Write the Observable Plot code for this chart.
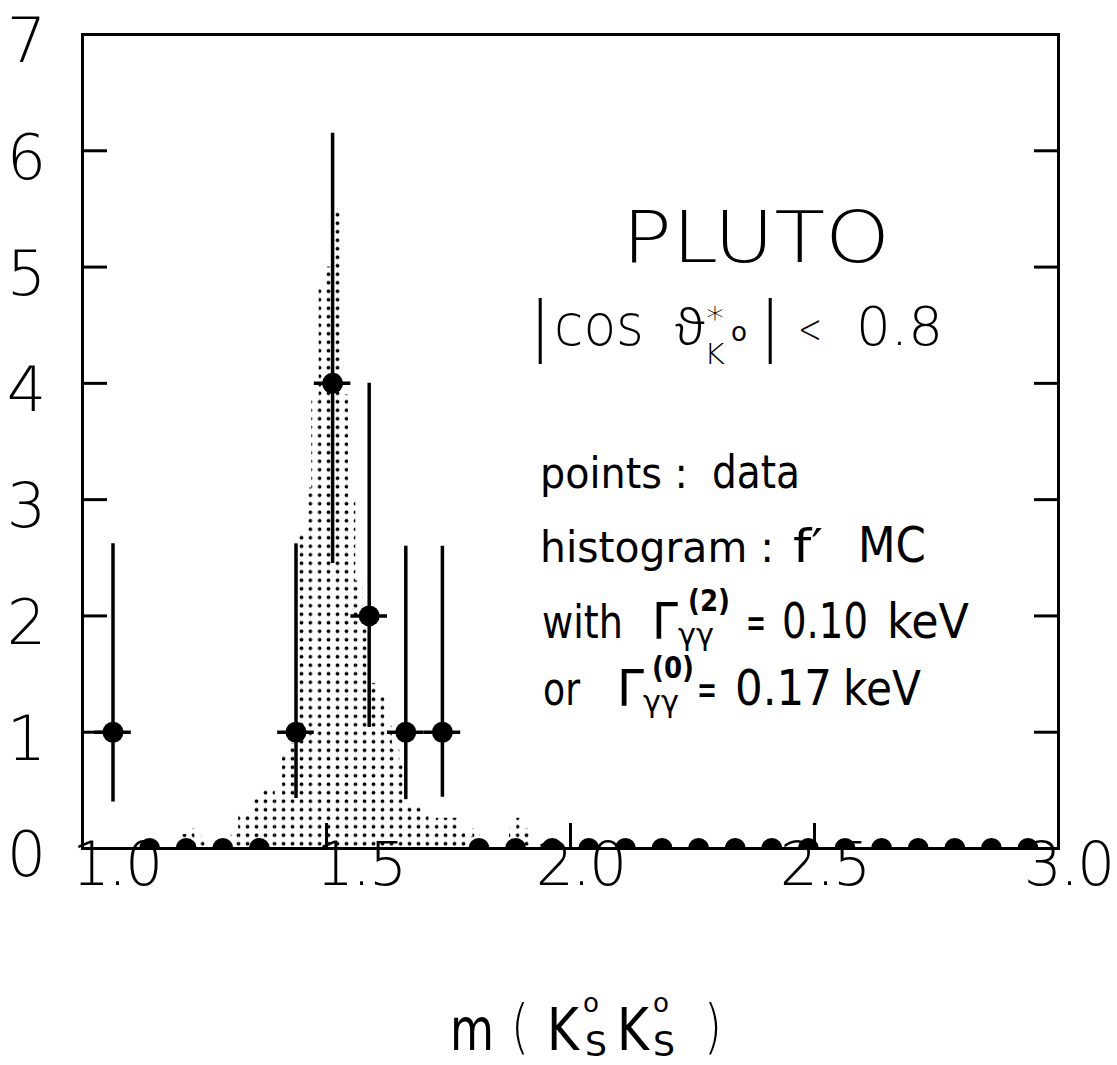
<!DOCTYPE html>
<html><head><meta charset="utf-8">
<script src="https://cdn.jsdelivr.net/npm/d3@7"></script>
<script src="https://cdn.jsdelivr.net/npm/@observablehq/plot@0.6"></script>
<style>
html,body{margin:0;padding:0;background:#fff;}
#chart{width:1117px;height:1065px;}
</style></head><body><div id="chart"></div>
<script>
// ---- data: PLUTO K0s K0s mass spectrum ----
const binCenters = [1.0625,1.1375,1.2125,1.2875,1.3625,1.4375,1.5125,1.5875,1.6625,1.7375,
  1.8125,1.8875,1.9625,2.0375,2.1125,2.1875,2.2625,2.3375,2.4125,2.4875,
  2.5625,2.6375,2.7125,2.7875,2.8625,2.9375];
const counts = [1,0,0,0,0,1,4,2,1,1, 0,0,0,0,0,0,0,0,0,0, 0,0,0,0,0,0];
const errLow  = [0.40,null,null,null,null,0.43,2.45,1.04,0.42,0.44, null,null,null,null,null,null,null,null,null,null, null,null,null,null,null,null];
const errHigh = [2.62,null,null,null,null,2.62,6.15,4.00,2.60,2.60, null,null,null,null,null,null,null,null,null,null, null,null,null,null,null,null];
const binHalfWidth = 0.0375;

// f' Monte Carlo histogram (left edges, heights)
const histLeft = [1.200,1.215,1.230,1.245,1.260,1.275,1.290,1.305,1.320,1.335,1.350,1.365,1.380,1.395,1.410,1.425,
  1.440,1.455,1.470,1.485,1.500,1.515,1.530,1.545,1.560,1.575,1.590,1.605,1.620,1.635,1.650,1.665,
  1.680,1.695,1.710,1.725,1.740,1.755,1.770,1.785,1.800,1.815,1.830,1.845,1.860,1.875,1.890,1.905];
const histWidth = 0.015;
const histHeight = [0.12,0.17,0.10,0.06,0,0,0,0.15,0.30,0.30,0.45,0.52,0.52,0.45,0.80,0.90,
  2.70,3.10,3.85,4.82,5.00,5.50,3.90,3.00,2.30,1.90,1.42,1.30,1.05,0.85,0.73,0.37,
  0.37,0.30,0.20,0.26,0.26,0.26,0.15,0.10,0.17,0,0,0,0,0.17,0.26,0.17];

const yLabelTicks = [0,1,2,3,4,5,6,7];
const yInnerTicks = [1,2,3,4,5,6];
const xLabelTicksLeft = [1.0,1.5];
const xLabelTicksRight = [2.0,2.5,3.0];
const xInnerTicks = [1.5,2.0,2.5];

// ---- build ----
const points = binCenters.map((x,i)=>({x, n: counts[i], lo: errLow[i], hi: errHigh[i]}));
const withErr = points.filter(d=>d.n>0);
const hist = histLeft.map((x1,i)=>({x1, x2: x1+histWidth, y: histHeight[i]})).filter(d=>d.y>0);

const FONT = "'DejaVu Sans', 'Noto Sans', sans-serif";
const xLab = {anchor:"bottom", tickSize:0, tickPadding:-6, fontSize:60, fontWeight:300,
  tickFormat:d3.format(".1f"), label:null};
const plot = Plot.plot({
  width:1117, height:1065,
  marginLeft:82, marginRight:59, marginTop:34, marginBottom:217,
  x:{domain:[1,3]}, y:{domain:[0,7]},
  style:{fontFamily: FONT, background:"white", color:"black", overflow:"visible"},
  marks:[
    Plot.rectY(hist, {x1:"x1", x2:"x2", y:"y", fill:"url(#stipple)"}),
    Plot.ruleX(withErr, {x:"x", y1:"lo", y2:"hi", strokeWidth:3.5}),
    Plot.ruleY(withErr, {y:"n", x1:d=>d.x-binHalfWidth, x2:d=>d.x+binHalfWidth, strokeWidth:3.5, clip:true}),
    Plot.dot(points, {x:"x", y:"n", r:10.5, fill:"black", stroke:null, clip:true}),
    Plot.axisY({ticks:yInnerTicks, anchor:"left", tickSize:-25, strokeWidth:3, tickFormat:()=>""}),
    Plot.axisY({ticks:yInnerTicks, anchor:"right", tickSize:-25, strokeWidth:3, tickFormat:()=>""}),
    Plot.axisX({ticks:xInnerTicks, anchor:"bottom", tickSize:-25, strokeWidth:3, tickFormat:()=>""}),
    Plot.axisY({ticks:yLabelTicks, anchor:"left", tickSize:0, tickPadding:56, textAnchor:"middle",
      fontSize:62, fontWeight:300, dy:8, tickFormat:d=>String(d), label:null}),
    Plot.axisX({...xLab, ticks:xLabelTicksLeft, dx:34}),
    Plot.axisX({...xLab, ticks:xLabelTicksRight, dx:10}),
    Plot.frame({strokeWidth:3})
  ]
});
document.getElementById("chart").appendChild(plot);
const svg = d3.select(plot);
svg.selectAll("g[aria-label='x-axis tick label']").attr("letter-spacing", -2);

// stipple pattern for the MC histogram
const y0 = plot.scale("y").apply(0);
const pat = svg.insert("defs", ":first-child").append("pattern")
  .attr("id","stipple").attr("patternUnits","userSpaceOnUse")
  .attr("width",9).attr("height",8.5).attr("x",0).attr("y", y0 % 8.5);
pat.append("rect").attr("width",9).attr("height",8.5).attr("fill","white");
pat.append("circle").attr("cx",4.5).attr("cy",4.25).attr("r",1.9).attr("fill","black");

// ---- annotations (real text) ----
const g = svg.append("g").attr("font-family", FONT).attr("fill","black").attr("text-anchor","start");
function txt(x, y, s, size, len, weight){
  const el = g.append("text").attr("x",x).attr("y",y).attr("font-size",size).text(s);
  if (len) el.attr("textLength",len).attr("lengthAdjust","spacingAndGlyphs");
  if (weight) el.attr("font-weight",weight);
  return el;
}
txt(622, 262, "PLUTO", 72, 268, 300);
// |cos ϑ*_K0| < 0.8
txt(529, 348, "|", 66, null, 300);
txt(554, 345, "cos", 57, 90, 300);
txt(675, 345, "ϑ", 50, 30, 300);
txt(706, 329, "*", 32, 18, 300);
txt(704, 364, "K", 28, 21, 300);
txt(731, 341, "o", 26, 16, 400);
txt(759, 348, "|", 66, null, 300);
txt(798, 343, "<", 40, 24, 300);
txt(856, 345, "0.8", 54, 87, 300);
// legend lines
txt(540, 488, "points :", 42, 148);
txt(712, 488, "data", 46, 88);
txt(540, 562, "histogram :", 42, 234);
txt(793, 562, "f′", 46, 30);
txt(858, 562, "MC", 50, 68);
txt(542, 638, "with", 46, 81);
txt(652, 638, "Γ", 50, 26);
txt(688, 611, "(2)", 30, 42, 600);
txt(678, 645, "γγ", 30, 36);
txt(746, 638, "=", 44, 20);
txt(782, 638, "0.10", 50, 86);
txt(887, 638, "keV", 48, 82);
txt(543, 705, "or", 46, 37);
txt(617, 705, "Γ", 50, 27);
txt(652, 678, "(0)", 30, 42, 600);
txt(643, 712, "γγ", 30, 36);
txt(697, 705, "=", 44, 20);
txt(735, 705, "0.17", 50, 97);
txt(843, 705, "keV", 48, 78);
// x-axis title m(K0s K0s)
txt(450, 1050, "m", 58, 44);
txt(511, 1047, "(", 58, 18, 300);
txt(547, 1050, "K", 58, 32);
txt(583, 1012, "o", 26, 16, 400);
txt(585, 1056, "S", 34, 22);
txt(617, 1050, "K", 58, 32);
txt(653, 1012, "o", 26, 16, 400);
txt(653, 1056, "S", 34, 22);
txt(704, 1047, ")", 58, 18, 300);
</script></body></html>
